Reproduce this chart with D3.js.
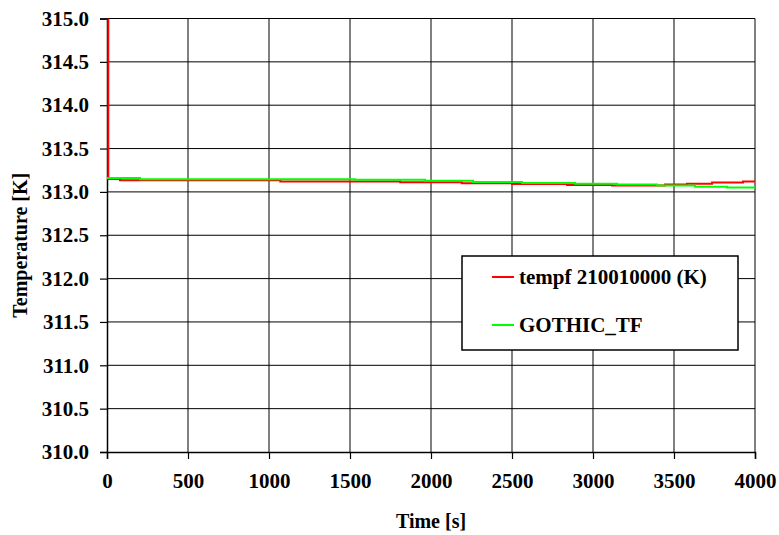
<!DOCTYPE html>
<html>
<head>
<meta charset="utf-8">
<script src="https://cdn.jsdelivr.net/npm/d3@7"></script>
<style>
  html, body { margin: 0; padding: 0; background: #fff; }
  svg { display: block; }
</style>
</head>
<body>
<script>
// ---- data ----
const xTicks = [0, 500, 1000, 1500, 2000, 2500, 3000, 3500, 4000];
const yTicks = [310.0, 310.5, 311.0, 311.5, 312.0, 312.5, 313.0, 313.5, 314.0, 314.5, 315.0];
const seriesNames = ["tempf 210010000 (K)", "GOTHIC_TF"];
const seriesColors = ["#ff0000", "#00ff00"];
const redTime = [0, 8, 80, 1070, 1810, 2190, 2500, 2840, 3117, 3444, 3580, 3735, 3926, 4000];
const redTemp = [316, 313.15, 313.135, 313.12, 313.11, 313.10, 313.09, 313.08, 313.074, 313.085, 313.095, 313.107, 313.12, 313.12];
const greenTime = [0, 204, 1531, 1963, 2259, 2562, 2889, 3148, 3395, 3630, 3827, 4000];
const greenTemp = [313.16, 313.145, 313.14, 313.13, 313.115, 313.104, 313.095, 313.085, 313.074, 313.06, 313.05, 313.05];

const FONT = "'Liberation Serif', 'Times New Roman', Times, serif";
const W = 779, H = 535;
const m = { left: 107, right: 24, top: 18.5, bottom: 83 };
const svg = d3.select("body").append("svg").attr("width", W).attr("height", H);

const x = d3.scaleLinear().domain([0, 4000]).range([m.left, W - m.right]);
const y = d3.scaleLinear().domain([310, 315]).range([H - m.bottom, m.top]);

// gridlines
svg.append("g").selectAll("line").data(xTicks.slice(1)).join("line")
  .attr("x1", d => x(d)).attr("x2", d => x(d))
  .attr("y1", y(315)).attr("y2", y(310))
  .attr("stroke", "#808080").attr("stroke-width", 2);
svg.append("g").selectAll("line").data(yTicks.slice(1)).join("line")
  .attr("x1", x(0)).attr("x2", x(4000))
  .attr("y1", d => y(d)).attr("y2", d => y(d))
  .attr("stroke", "#000").attr("stroke-width", 1);

// axes
const yAxis = d3.axisLeft(y).tickValues(yTicks).tickFormat(d3.format(".1f")).tickSize(7).tickPadding(11);
const gy = svg.append("g").attr("transform", `translate(${x(0)},0)`).call(yAxis);
const xAxis = d3.axisBottom(x).tickValues(xTicks).tickFormat(d3.format("d")).tickSize(7).tickPadding(14);
const gx = svg.append("g").attr("transform", `translate(0,${y(310)})`).call(xAxis);
[gx, gy].forEach(g => {
  g.attr("font-family", null).attr("font-size", null);
  g.select(".domain").attr("stroke", "#000").attr("stroke-width", 1.5);
  g.selectAll(".tick line").attr("stroke", "#000").attr("stroke-width", 1.2);
  g.selectAll(".tick text").style("font-size", "21px").style("font-family", FONT).style("font-weight", "bold").attr("fill", "#000");
});
gx.selectAll(".tick text").attr("dy", "0.71em");

// clip
svg.append("clipPath").attr("id", "clip").append("rect")
  .attr("x", x(0)).attr("y", y(315)).attr("width", x(4000) - x(0)).attr("height", y(310) - y(315));

const line = d3.line().x(d => x(d[0])).y(d => y(d[1])).curve(d3.curveStepAfter);
const redData = redTime.map((t, i) => [t, redTemp[i]]);
const greenData = greenTime.map((t, i) => [t, greenTemp[i]]);
const gl = svg.append("g").attr("clip-path", "url(#clip)");
gl.append("path").datum(redData).attr("d", line).attr("fill", "none").attr("stroke", seriesColors[0]).attr("stroke-width", 2);
gl.append("path").datum(greenData).attr("d", line).attr("fill", "none").attr("stroke", seriesColors[1]).attr("stroke-width", 2);

// titles
svg.append("text").attr("x", (x(0) + x(4000)) / 2).attr("y", 528).attr("text-anchor", "middle")
  .style("font-family", FONT).style("font-weight", "bold").style("font-size", "20px").text("Time [s]");
svg.append("text").attr("transform", `translate(27,${(y(310) + y(315)) / 2 + 10}) rotate(-90)`)
  .attr("text-anchor", "middle")
  .style("font-family", FONT).style("font-weight", "bold").style("font-size", "20px").text("Temperature [K]");

// legend
const lg = svg.append("g");
lg.append("rect").attr("x", 462).attr("y", 256).attr("width", 276).attr("height", 94)
  .attr("fill", "#fff").attr("stroke", "#000").attr("stroke-width", 1.5);
const rowsY = [277, 325];
seriesNames.forEach((n, i) => {
  lg.append("line").attr("x1", 492).attr("x2", 514).attr("y1", rowsY[i]).attr("y2", rowsY[i])
    .attr("stroke", seriesColors[i]).attr("stroke-width", 2);
  lg.append("text").attr("x", 519).attr("y", rowsY[i]).attr("dy", "0.35em")
    .style("font-family", FONT).style("font-weight", "bold").style("font-size", "21px").text(n);
});
</script>
</body>
</html>
